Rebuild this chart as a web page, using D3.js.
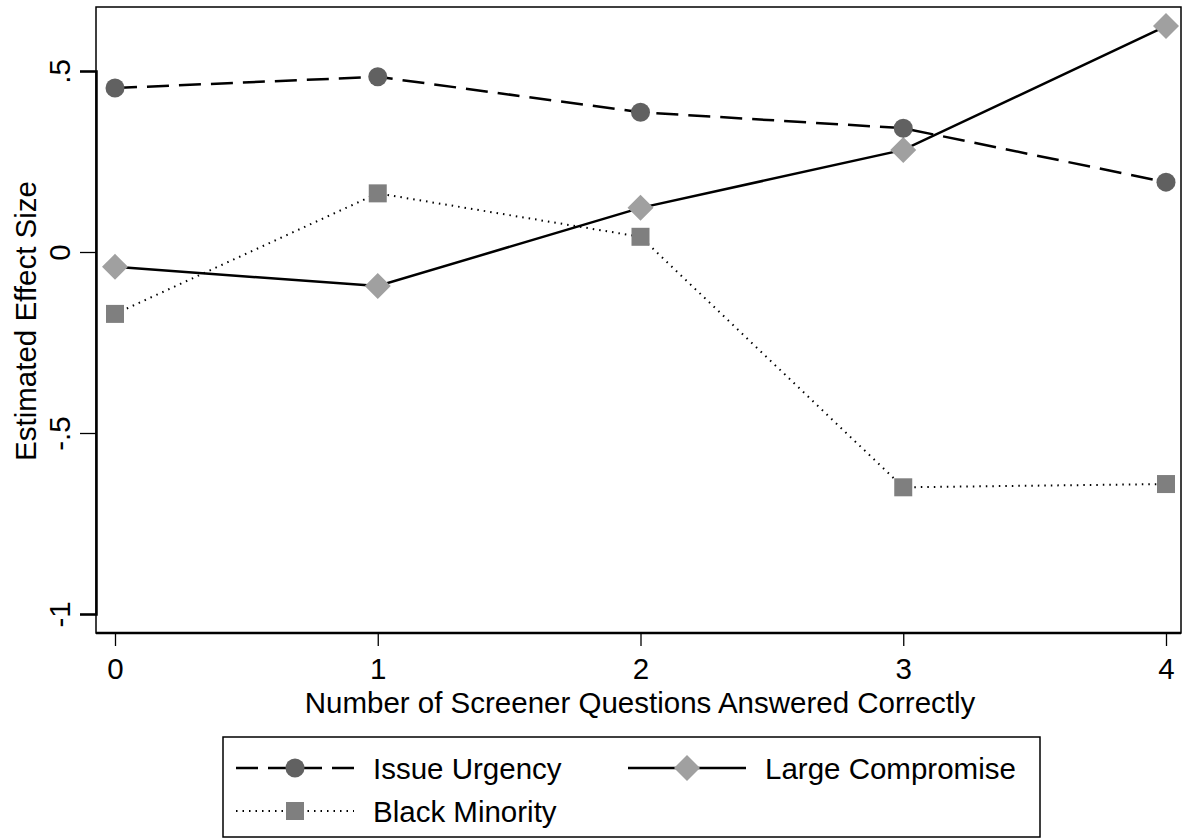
<!DOCTYPE html>
<html><head><meta charset="utf-8">
<script src="https://cdn.jsdelivr.net/npm/d3@7"></script>
<style>body{margin:0;background:#fff}svg{display:block}text{font-family:"Liberation Sans",Arial,Helvetica,sans-serif;fill:#000}</style>
</head><body><svg id="c" width="1182" height="839"></svg>
<script>
const xCats = [0,1,2,3,4];
const yTicks = [-1,-0.5,0,0.5];
const yTickLabels = ["-1","-.5","0",".5"];
const issueUrgency = [0.453,0.484,0.386,0.342,0.193];
const largeCompromise = [-0.041,-0.094,0.122,0.282,0.624];
const blackMinority = [-0.171,0.162,0.042,-0.650,-0.641];
const seriesNames = ["Issue Urgency","Large Compromise","Black Minority"];

const svg = d3.select("#c");
const L=96, R=1181, T=7, B=633;
const FS=29.5;
const x = d3.scaleLinear().domain([0,4]).range([115,1166]);
const y = d3.scaleLinear().domain([-1,0.5]).range([614,71]);

svg.append("rect").attr("x",L).attr("y",T).attr("width",R-L).attr("height",B-T)
  .attr("fill","none").attr("stroke","#000").attr("stroke-width",1.5);

const yAxis = d3.axisLeft(y).tickValues(yTicks).tickSize(16).tickFormat((d,i)=>yTickLabels[i]);
const gy = svg.append("g").attr("transform",`translate(${L},0)`).call(yAxis);
gy.select(".domain").attr("stroke","#000").attr("stroke-width",2.5);
gy.selectAll(".tick line").attr("stroke","#000").attr("stroke-width",1.3);
gy.selectAll(".tick text").attr("font-size",FS).attr("x",0).attr("dy","0")
  .attr("transform","translate(-26,0) rotate(-90)").attr("text-anchor","middle");

const xAxis = d3.axisBottom(x).tickValues(xCats).tickSize(13).tickFormat(d3.format("d"));
const gx = svg.append("g").attr("transform",`translate(0,${B})`).call(xAxis);
gx.select(".domain").attr("d",`M${L},0H${R}`).attr("stroke","#000").attr("stroke-width",2.5);
gx.selectAll(".tick line").attr("stroke","#000").attr("stroke-width",1.3);
gx.selectAll(".tick text").attr("font-size",FS).attr("y",25).attr("dy","0.71em");

svg.append("text").attr("x",640).attr("y",713).attr("text-anchor","middle").attr("font-size",FS)
  .text("Number of Screener Questions Answered Correctly");
svg.append("text").attr("transform","translate(36,321) rotate(-90)").attr("text-anchor","middle").attr("font-size",FS)
  .text("Estimated Effect Size");

const line = d3.line().x((d,i)=>x(xCats[i])).y(d=>y(d));
const styles = [
  {data:issueUrgency, dash:"22,10", width:2.5, shape:"circle", fill:"#616161"},
  {data:largeCompromise, dash:null, width:2.5, shape:"diamond", fill:"#a0a0a0"},
  {data:blackMinority, dash:"1.5,5", width:2, shape:"square", fill:"#7f7f7f"}
];
function marker(g, shape, fill, cx, cy){
  if(shape==="circle") g.append("circle").attr("cx",cx).attr("cy",cy).attr("r",9.5).attr("fill",fill);
  else if(shape==="square") g.append("rect").attr("x",cx-9).attr("y",cy-9).attr("width",18).attr("height",18).attr("fill",fill);
  else g.append("path").attr("d",`M${cx},${cy-13}L${cx+13},${cy}L${cx},${cy+13}L${cx-13},${cy}Z`).attr("fill",fill);
}
const order=[2,1,0];
order.forEach(k=>{
  const s=styles[k];
  svg.append("path").datum(s.data).attr("d",line).attr("fill","none").attr("stroke","#000")
    .attr("stroke-width",s.width).attr("stroke-dasharray",s.dash);
});
order.forEach(k=>{
  const s=styles[k];
  const g=svg.append("g");
  s.data.forEach((v,i)=>marker(g,s.shape,s.fill,x(xCats[i]),y(v)));
});

svg.append("rect").attr("x",223).attr("y",737).attr("width",817).attr("height",100)
  .attr("fill","#fff").attr("stroke","#000").attr("stroke-width",1.5);
const leg = [
  {k:0, lx:236, ly:768, tx:373},
  {k:1, lx:628, ly:768, tx:765},
  {k:2, lx:236, ly:811, tx:373}
];
leg.forEach(o=>{
  const s=styles[o.k];
  svg.append("line").attr("x1",o.lx).attr("x2",o.lx+118).attr("y1",o.ly).attr("y2",o.ly)
    .attr("stroke","#000").attr("stroke-width",s.width).attr("stroke-dasharray",s.dash);
  marker(svg,s.shape,s.fill,o.lx+59,o.ly);
  svg.append("text").attr("x",o.tx).attr("y",o.ly+11).attr("font-size",FS).text(seriesNames[o.k]);
});
</script></body></html>
